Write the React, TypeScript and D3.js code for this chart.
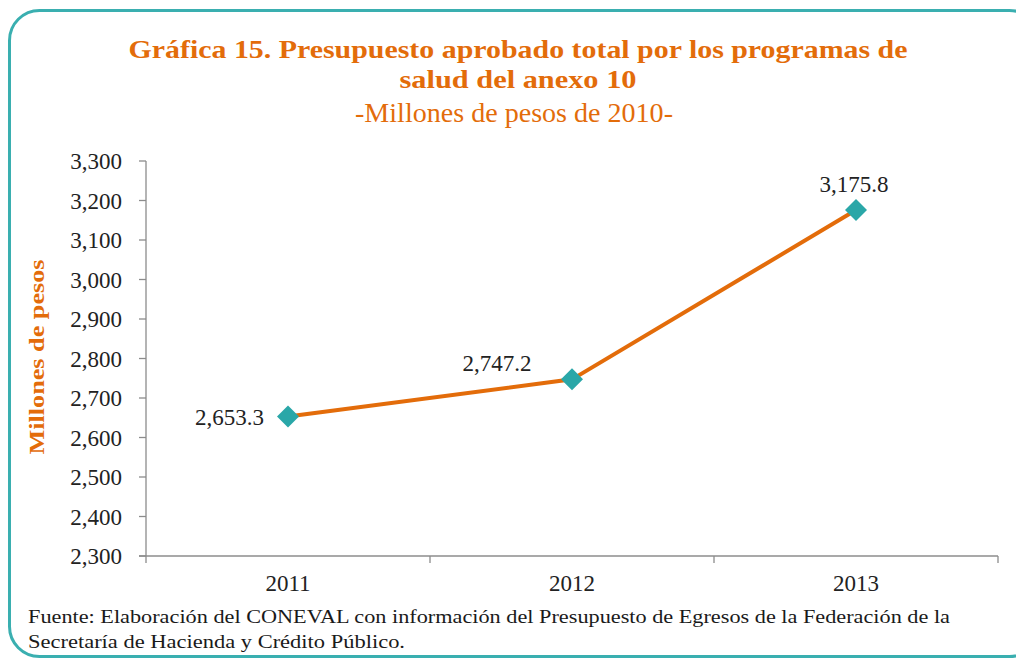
import React from "react";
import * as d3 from "d3";

const years = ["2011", "2012", "2013"];
const values = [2653.3, 2747.2, 3175.8];
const yTicks = [2300, 2400, 2500, 2600, 2700, 2800, 2900, 3000, 3100, 3200, 3300];
const titleLines = [
  "Gráfica 15. Presupuesto aprobado total por los programas de",
  "salud del anexo 10",
];
const subtitle = "-Millones de pesos de 2010-";
const yAxisTitle = "Millones de pesos";
const sourceLines = [
  "Fuente: Elaboración del CONEVAL con información del Presupuesto de Egresos de la Federación de la",
  "Secretaría de Hacienda y Crédito Público.",
];

const W = 1016;
const H = 658;
const ORANGE = "#E36C0A";
const TEAL = "#2AA7A8";
const FONT = "'Liberation Serif', serif";

export default function App() {
  const x = d3.scaleBand<string>().domain(years).range([146, 998]).padding(0);
  const y = d3.scaleLinear().domain([2300, 3300]).range([556, 161]);
  const fmt = d3.format(",.1f");
  const fmtTick = d3.format(",");
  const cx = (d: string) => (x(d) as number) + x.bandwidth() / 2;
  const line = d3
    .line<number>()
    .x((_, i) => cx(years[i]))
    .y((v) => y(v));

  const labelPos = (i: number) => {
    const px = cx(years[i]);
    const py = y(values[i]);
    if (i === 0) return { x: px - 24, y: py + 9, anchor: "end" };
    if (i === 1) return { x: px - 75, y: py - 8, anchor: "middle" };
    return { x: px - 2, y: py - 18, anchor: "middle" };
  };

  const diamond = (px: number, py: number, r: number) =>
    `M${px},${py - r}L${px + r},${py}L${px},${py + r}L${px - r},${py}Z`;

  return (
    <svg
      width={W}
      height={H}
      style={{ position: "absolute", left: 0, top: 0, background: "#fff" }}
    >
      <rect x={9.5} y={10.5} width={1030} height={646} rx={30} fill="#fff" stroke="#3AAFB0" strokeWidth={3} />
      <g fontFamily={FONT} fill={ORANGE} textAnchor="middle">
        <text x={518} y={58} fontSize={26} fontWeight="bold" textLength={779} lengthAdjust="spacingAndGlyphs">
          {titleLines[0]}
        </text>
        <text x={518} y={88} fontSize={26} fontWeight="bold" textLength={237} lengthAdjust="spacingAndGlyphs">
          {titleLines[1]}
        </text>
        <text x={514} y={122} fontSize={27} textLength={318} lengthAdjust="spacingAndGlyphs">
          {subtitle}
        </text>
      </g>
      <text
        transform={`translate(44,${357}) rotate(-90)`}
        textAnchor="middle"
        fontFamily={FONT}
        fontSize={22}
        fontWeight="bold"
        fill={ORANGE}
        textLength={195}
        lengthAdjust="spacingAndGlyphs"
      >
        {yAxisTitle}
      </text>
      {/* y axis */}
      <line x1={146} x2={146} y1={161} y2={556} stroke="#8c8c8c" strokeWidth={1.3} />
      {yTicks.map((t) => (
        <g key={t}>
          <line x1={139} x2={146} y1={y(t)} y2={y(t)} stroke="#8c8c8c" strokeWidth={1.3} />
          <text
            x={122}
            y={y(t)}
            dy="0.35em"
            textAnchor="end"
            fontFamily={FONT}
            fontSize={23}
            fill="#222"
          >
            {fmtTick(t)}
          </text>
        </g>
      ))}
      {/* x axis */}
      <line x1={139} x2={998} y1={556} y2={556} stroke="#8c8c8c" strokeWidth={1.3} />
      {[...years.map((d) => x(d) as number), 998].map((v, i) => (
        <line key={i} x1={v} x2={v} y1={556} y2={563} stroke="#8c8c8c" strokeWidth={1.3} />
      ))}
      {years.map((d) => (
        <text key={d} x={cx(d)} y={591} textAnchor="middle" fontFamily={FONT} fontSize={23} fill="#222">
          {d}
        </text>
      ))}
      <path d={line(values) as string} fill="none" stroke={ORANGE} strokeWidth={4} />
      {values.map((v, i) => (
        <path key={i} d={diamond(cx(years[i]), y(v), 11)} fill={TEAL} />
      ))}
      {values.map((v, i) => {
        const p = labelPos(i);
        return (
          <text
            key={i}
            x={p.x}
            y={p.y}
            textAnchor={p.anchor as any}
            fontFamily={FONT}
            fontSize={23}
            fill="#222"
          >
            {fmt(v)}
          </text>
        );
      })}
      <g fontFamily={FONT} fontSize={19} fill="#1a1a1a">
        <text x={28} y={623} textLength={922} lengthAdjust="spacingAndGlyphs">
          {sourceLines[0]}
        </text>
        <text x={28} y={648} textLength={377} lengthAdjust="spacingAndGlyphs">
          {sourceLines[1]}
        </text>
      </g>
    </svg>
  );
}
